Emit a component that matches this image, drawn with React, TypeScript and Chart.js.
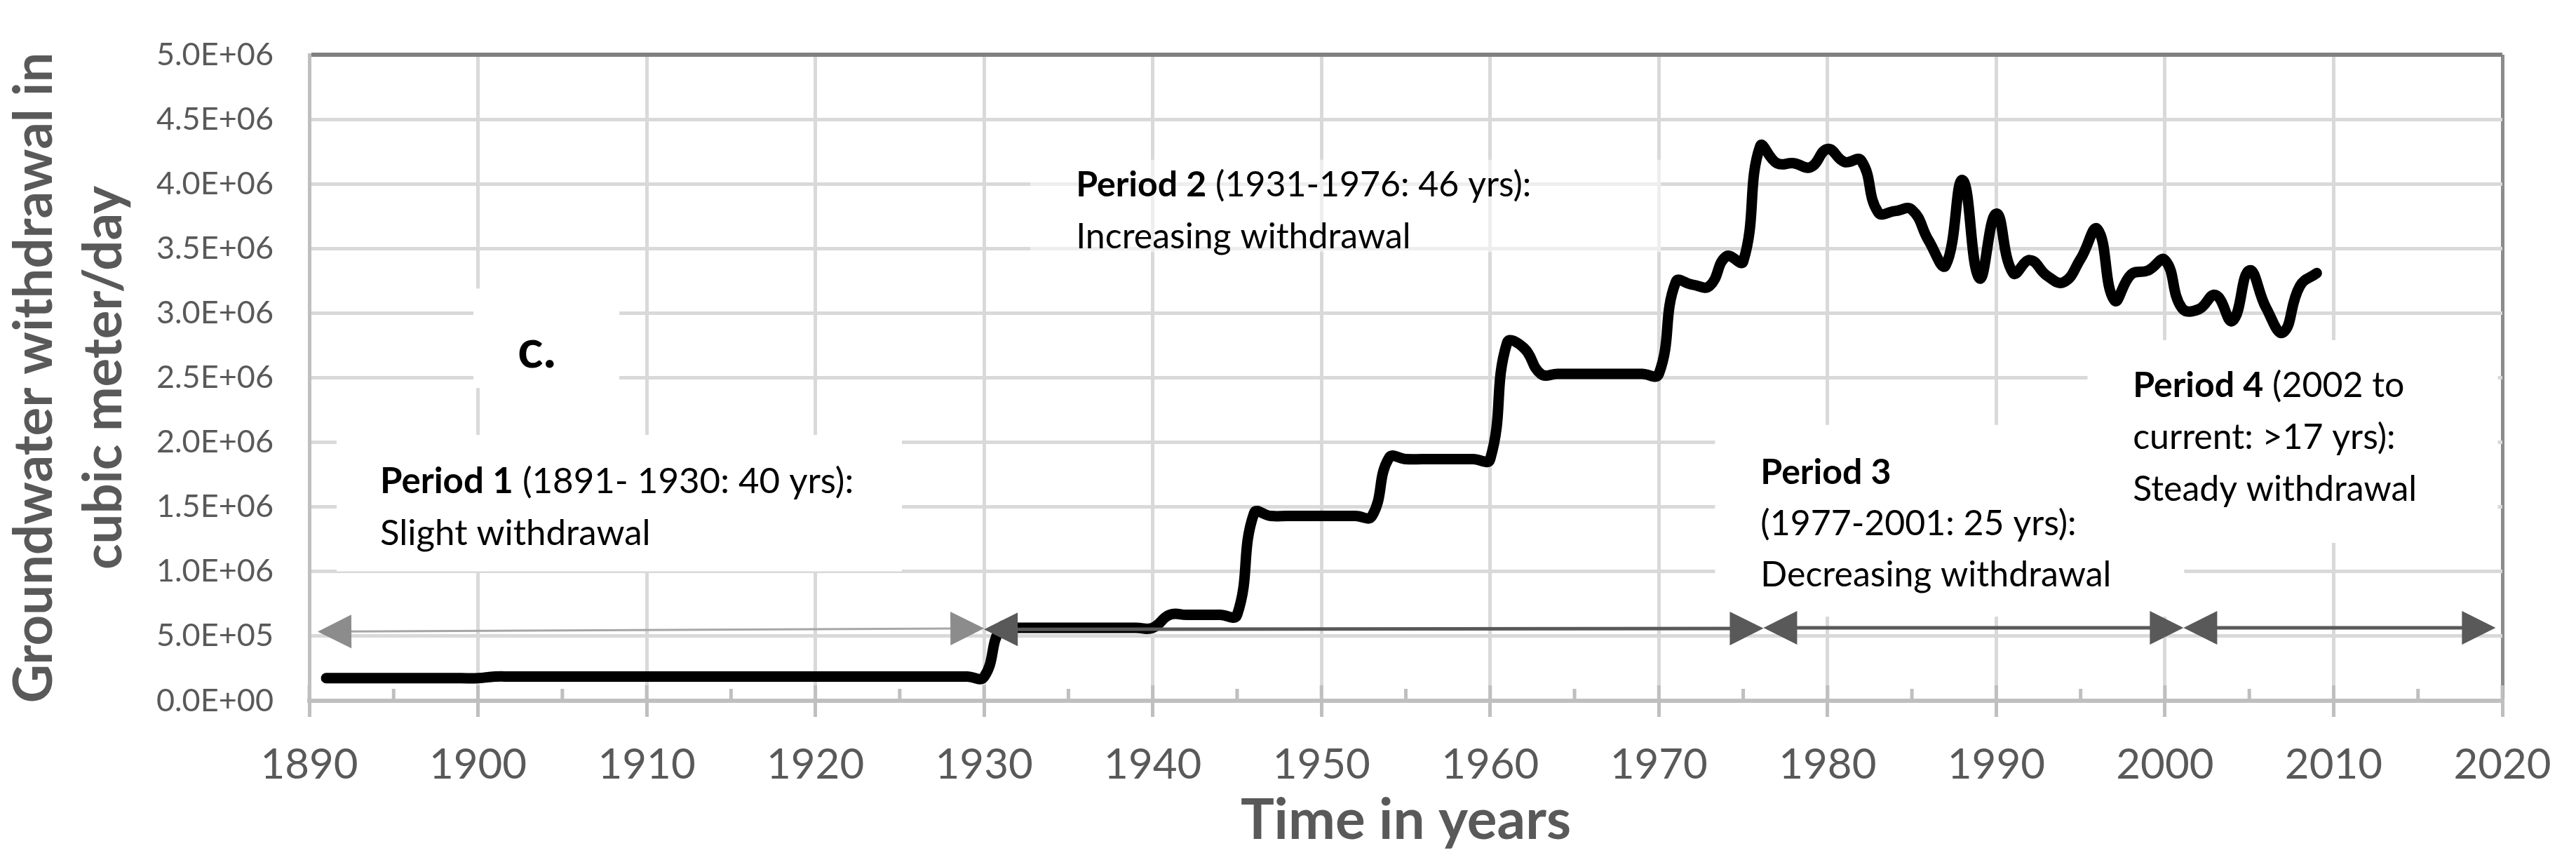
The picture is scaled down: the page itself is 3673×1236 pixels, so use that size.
import React, { useEffect, useRef } from "react";
import { Chart, registerables } from "chart.js";

Chart.register(...registerables);

// ---------- data ----------
const years = [
  1891, 1892, 1893, 1894, 1895, 1896, 1897, 1898, 1899, 1900,
  1901, 1902, 1903, 1904, 1905, 1906, 1907, 1908, 1909, 1910,
  1911, 1912, 1913, 1914, 1915, 1916, 1917, 1918, 1919, 1920,
  1921, 1922, 1923, 1924, 1925, 1926, 1927, 1928, 1929, 1930,
  1931, 1932, 1933, 1934, 1935, 1936, 1937, 1938, 1939, 1940,
  1941, 1942, 1943, 1944, 1945, 1946, 1947, 1948, 1949, 1950,
  1951, 1952, 1953, 1954, 1955, 1956, 1957, 1958, 1959, 1960,
  1961, 1962, 1963, 1964, 1965, 1966, 1967, 1968, 1969, 1970,
  1971, 1972, 1973, 1974, 1975, 1976, 1977, 1978, 1979, 1980,
  1981, 1982, 1983, 1984, 1985, 1986, 1987, 1988, 1989, 1990,
  1991, 1992, 1993, 1994, 1995, 1996, 1997, 1998, 1999, 2000,
  2001, 2002, 2003, 2004, 2005, 2006, 2007, 2008, 2009,
];

const withdrawal = [
  175000, 175000, 175000, 175000, 175000, 175000, 175000, 175000, 175000, 175000,
  187000, 187000, 187000, 187000, 187000, 187000, 187000, 187000, 187000, 187000,
  187000, 187000, 187000, 187000, 187000, 187000, 187000, 187000, 187000, 187000,
  187000, 187000, 187000, 187000, 187000, 187000, 187000, 187000, 187000, 185000,
  565000, 565000, 565000, 565000, 565000, 565000, 565000, 565000, 565000, 565000,
  665000, 665000, 665000, 665000, 665000, 1450000, 1430000, 1430000, 1430000, 1430000,
  1430000, 1430000, 1430000, 1880000, 1870000, 1870000, 1870000, 1870000, 1870000, 1870000,
  2770000, 2730000, 2530000, 2530000, 2530000, 2530000, 2530000, 2530000, 2530000, 2530000,
  3240000, 3220000, 3210000, 3440000, 3400000, 4290000, 4160000, 4160000, 4130000, 4270000,
  4170000, 4180000, 3780000, 3790000, 3800000, 3560000, 3370000, 4030000, 3270000, 3770000,
  3310000, 3410000, 3290000, 3240000, 3420000, 3650000, 3100000, 3300000, 3330000, 3410000,
  3040000, 3030000, 3140000, 2940000, 3330000, 3040000, 2850000, 3210000, 3310000,
];

const xTickValues = [1890, 1900, 1910, 1920, 1930, 1940, 1950, 1960, 1970, 1980, 1990, 2000, 2010, 2020];
const yTickValues = [0, 500000, 1000000, 1500000, 2000000, 2500000, 3000000, 3500000, 4000000, 4500000, 5000000];

// period arrows (years and withdrawal level of the arrow ends)
const periodStarts = [1890.5, 1930, 1976.2, 2001.1];
const periodEnds = [1930, 1976.2, 2001.1, 2019.6];
const arrowLevelStart = [535000, 552000, 565000, 565000];
const arrowLevelEnd = [561000, 560000, 565000, 565000];

// annotation texts
const annotationTexts = [
  [[{ t: "c.", bold: true }]],
  [
    [{ t: "Period 1", bold: true }, { t: " (1891- 1930: 40 yrs):", bold: false }],
    [{ t: "Slight withdrawal", bold: false }],
  ],
  [
    [{ t: "Period 2", bold: true }, { t: " (1931-1976: 46 yrs):", bold: false }],
    [{ t: "Increasing withdrawal", bold: false }],
  ],
  [
    [{ t: "Period 3", bold: true }],
    [{ t: "(1977-2001: 25 yrs):", bold: false }],
    [{ t: "Decreasing withdrawal", bold: false }],
  ],
  [
    [{ t: "Period 4", bold: true }, { t: " (2002 to", bold: false }],
    [{ t: "current: >17 yrs):", bold: false }],
    [{ t: "Steady withdrawal", bold: false }],
  ],
];

// ---------- layout / style (data coordinates for anchoring) ----------
const annotationAnchors = [
  { x: 1902.35, y: 2580000, size: 76, lineGap: 74 },
  { x: 1894.2, y: 1605000, size: 51, lineGap: 74 },
  { x: 1935.45, y: 3906000, size: 50, lineGap: 74 },
  { x: 1976.03, y: 1679000, size: 50, lineGap: 73 },
  { x: 1998.1, y: 2350000, size: 50, lineGap: 74 },
];

const textBoxes = [
  { x0: 1899.73, x1: 1908.38, y0: 3190000, y1: 2420000, fill: "#ffffff" },
  { x0: 1891.62, x1: 1925.13, y0: 2057000, y1: 1002000, fill: "#ffffff" },
  { x0: 1932.74, x1: 1970.12, y0: 4187000, y1: 3473000, fill: "rgba(255,255,255,0.55)" },
  { x0: 1973.33, x1: 2001.14, y0: 2135000, y1: 651000, fill: "#ffffff" },
  { x0: 1995.41, x1: 2019.73, y0: 2791000, y1: 1222000, fill: "#ffffff" },
];

const arrowStyles = [
  { line: "#A6A6A6", head: "#8C8C8C", width: 3 },
  { line: "#595959", head: "#595959", width: 5 },
  { line: "#595959", head: "#595959", width: 5 },
  { line: "#595959", head: "#595959", width: 5 },
];

const FONT = "Lato, 'Open Sans', sans-serif";

function formatSci(v: number): string {
  if (v === 0) return "0.0E+00";
  const exp = Math.floor(Math.log10(Math.abs(v)) + 1e-9);
  const mant = v / Math.pow(10, exp);
  const e = String(Math.abs(exp)).padStart(2, "0");
  return `${mant.toFixed(1)}E${exp < 0 ? "-" : "+"}${e}`;
}

const overlayPlugin = {
  id: "periodOverlay",
  beforeDatasetsDraw(chart: any) {
    const { ctx, scales } = chart;
    const xs = scales.x;
    const ys = scales.y;
    ctx.save();
    // white text boxes (hide gridlines like Excel text boxes)
    for (const b of textBoxes) {
      const x0 = xs.getPixelForValue(b.x0);
      const x1 = xs.getPixelForValue(b.x1);
      const y0 = ys.getPixelForValue(b.y0);
      const y1 = ys.getPixelForValue(b.y1);
      ctx.fillStyle = b.fill;
      ctx.fillRect(Math.min(x0, x1), Math.min(y0, y1), Math.abs(x1 - x0), Math.abs(y1 - y0));
    }
    // inner tick marks on x axis (major + minor)
    const base = chart.chartArea.bottom;
    ctx.strokeStyle = "#BFBFBF";
    ctx.lineWidth = 5;
    const tks = xs.ticks.map((t: any) => t.value);
    for (let i = 0; i < tks.length; i++) {
      const px = xs.getPixelForValue(tks[i]);
      ctx.beginPath();
      ctx.moveTo(px, base);
      ctx.lineTo(px, base - 22);
      ctx.stroke();
      if (i < tks.length - 1) {
        const pm = xs.getPixelForValue((tks[i] + tks[i + 1]) / 2);
        ctx.beginPath();
        ctx.moveTo(pm, base);
        ctx.lineTo(pm, base - 17);
        ctx.stroke();
      }
    }
    ctx.restore();
  },
  afterDatasetsDraw(chart: any) {
    const { ctx, scales } = chart;
    const xs = scales.x;
    const ys = scales.y;
    ctx.save();
    // arrows
    const headLen = 48;
    const headHalf = 24;
    const drawHead = (tx: number, ty: number, ang: number, color: string) => {
      ctx.fillStyle = color;
      ctx.beginPath();
      ctx.moveTo(tx, ty);
      const bx = tx - Math.cos(ang) * headLen;
      const by = ty - Math.sin(ang) * headLen;
      ctx.lineTo(bx - Math.sin(ang) * headHalf, by + Math.cos(ang) * headHalf);
      ctx.lineTo(bx + Math.sin(ang) * headHalf, by - Math.cos(ang) * headHalf);
      ctx.closePath();
      ctx.fill();
    };
    for (let i = 0; i < periodStarts.length; i++) {
      const xa = xs.getPixelForValue(periodStarts[i]);
      const xb = xs.getPixelForValue(periodEnds[i]);
      const ya = ys.getPixelForValue(arrowLevelStart[i]);
      const yb = ys.getPixelForValue(arrowLevelEnd[i]);
      const st = arrowStyles[i];
      const ang = Math.atan2(yb - ya, xb - xa);
      ctx.strokeStyle = st.line;
      ctx.lineWidth = st.width;
      ctx.beginPath();
      ctx.moveTo(xa + Math.cos(ang) * (headLen - 4), ya + Math.sin(ang) * (headLen - 4));
      ctx.lineTo(xb - Math.cos(ang) * (headLen - 4), yb - Math.sin(ang) * (headLen - 4));
      ctx.stroke();
      drawHead(xa, ya, ang + Math.PI, st.head);
      drawHead(xb, yb, ang, st.head);
    }
    // annotation texts
    ctx.fillStyle = "#000000";
    ctx.textBaseline = "alphabetic";
    ctx.textAlign = "left";
    for (let a = 0; a < annotationTexts.length; a++) {
      const anc = annotationAnchors[a];
      const x0 = xs.getPixelForValue(anc.x);
      let yy = ys.getPixelForValue(anc.y);
      for (const line of annotationTexts[a]) {
        let xx = x0;
        for (const seg of line) {
          ctx.font = `${seg.bold ? "bold " : ""}${anc.size}px ${FONT}`;
          ctx.fillText(seg.t, xx, yy);
          xx += ctx.measureText(seg.t).width;
        }
        yy += anc.lineGap;
      }
    }
    ctx.restore();
  },
};

export default function App() {
  const ref = useRef<HTMLCanvasElement | null>(null);

  useEffect(() => {
    if (!ref.current) return;
    Chart.defaults.font.family = FONT;
    const chart = new Chart(ref.current, {
      type: "line",
      data: {
        datasets: [
          {
            label: "Groundwater withdrawal",
            data: years.map((yr, i) => ({ x: yr, y: withdrawal[i] })),
            borderColor: "#000000",
            borderWidth: 15,
            pointRadius: 0,
            pointHoverRadius: 0,
            tension: 0.45,
            fill: false,
            borderCapStyle: "round",
            borderJoinStyle: "round",
          },
        ],
      },
      options: {
        responsive: false,
        animation: false,
        devicePixelRatio: 1,
        layout: { padding: { top: 46, right: 105, left: 0, bottom: 0 } },
        plugins: {
          legend: { display: false },
          tooltip: { enabled: false },
          title: { display: false },
        },
        scales: {
          x: {
            type: "linear",
            min: 1890,
            max: 2020,
            afterBuildTicks: (s: any) => {
              s.ticks = xTickValues.map((v) => ({ value: v }));
            },
            afterFit: (s: any) => {
              s.height = 237;
            },
            grid: {
              color: (c: any) => (c.tick && c.tick.value === 2020 ? "#8C8C8C" : "#D9D9D9"),
              lineWidth: 5,
              drawTicks: true,
              tickLength: 23,
              tickColor: "#BFBFBF",
              tickWidth: 5,
            },
            border: { display: true, color: "#BFBFBF", width: 6 },
            ticks: {
              color: "#595959",
              font: { size: 60 },
              padding: 33,
              maxRotation: 0,
              autoSkip: false,
              callback: (v: any) => String(v),
            },
            title: {
              display: true,
              text: "Time in years",
              color: "#595959",
              font: { size: 80, weight: "bold" },
              padding: { top: 0, bottom: 18 },
            },
          },
          y: {
            min: 0,
            max: 5000000,
            afterBuildTicks: (s: any) => {
              s.ticks = yTickValues.map((v) => ({ value: v }));
            },
            afterFit: (s: any) => {
              s.width = 441;
            },
            grid: {
              color: (c: any) => (c.tick && c.tick.value === 5000000 ? "#808080" : "#D9D9D9"),
              lineWidth: (c: any) => (c.tick && c.tick.value === 5000000 ? 6 : 5),
              drawTicks: false,
            },
            border: { display: true, color: "#BFBFBF", width: 5 },
            ticks: {
              color: "#595959",
              font: { size: 45 },
              padding: 51,
              autoSkip: false,
              callback: (v: any) => formatSci(Number(v)),
            },
            title: {
              display: true,
              text: ["Groundwater withdrawal in", "cubic meter/day"],
              color: "#595959",
              font: { size: 76, weight: "bold", lineHeight: 1.3 },
              padding: { top: 0, bottom: 0 },
            },
          },
        },
      },
      plugins: [overlayPlugin],
    } as any);
    return () => chart.destroy();
  }, []);

  return (
    <div style={{ position: "fixed", left: 0, top: 0, width: 3673, height: 1236, background: "#ffffff" }}>
      <canvas ref={ref} width={3673} height={1236} style={{ display: "block", width: 3673, height: 1236 }} />
    </div>
  );
}
